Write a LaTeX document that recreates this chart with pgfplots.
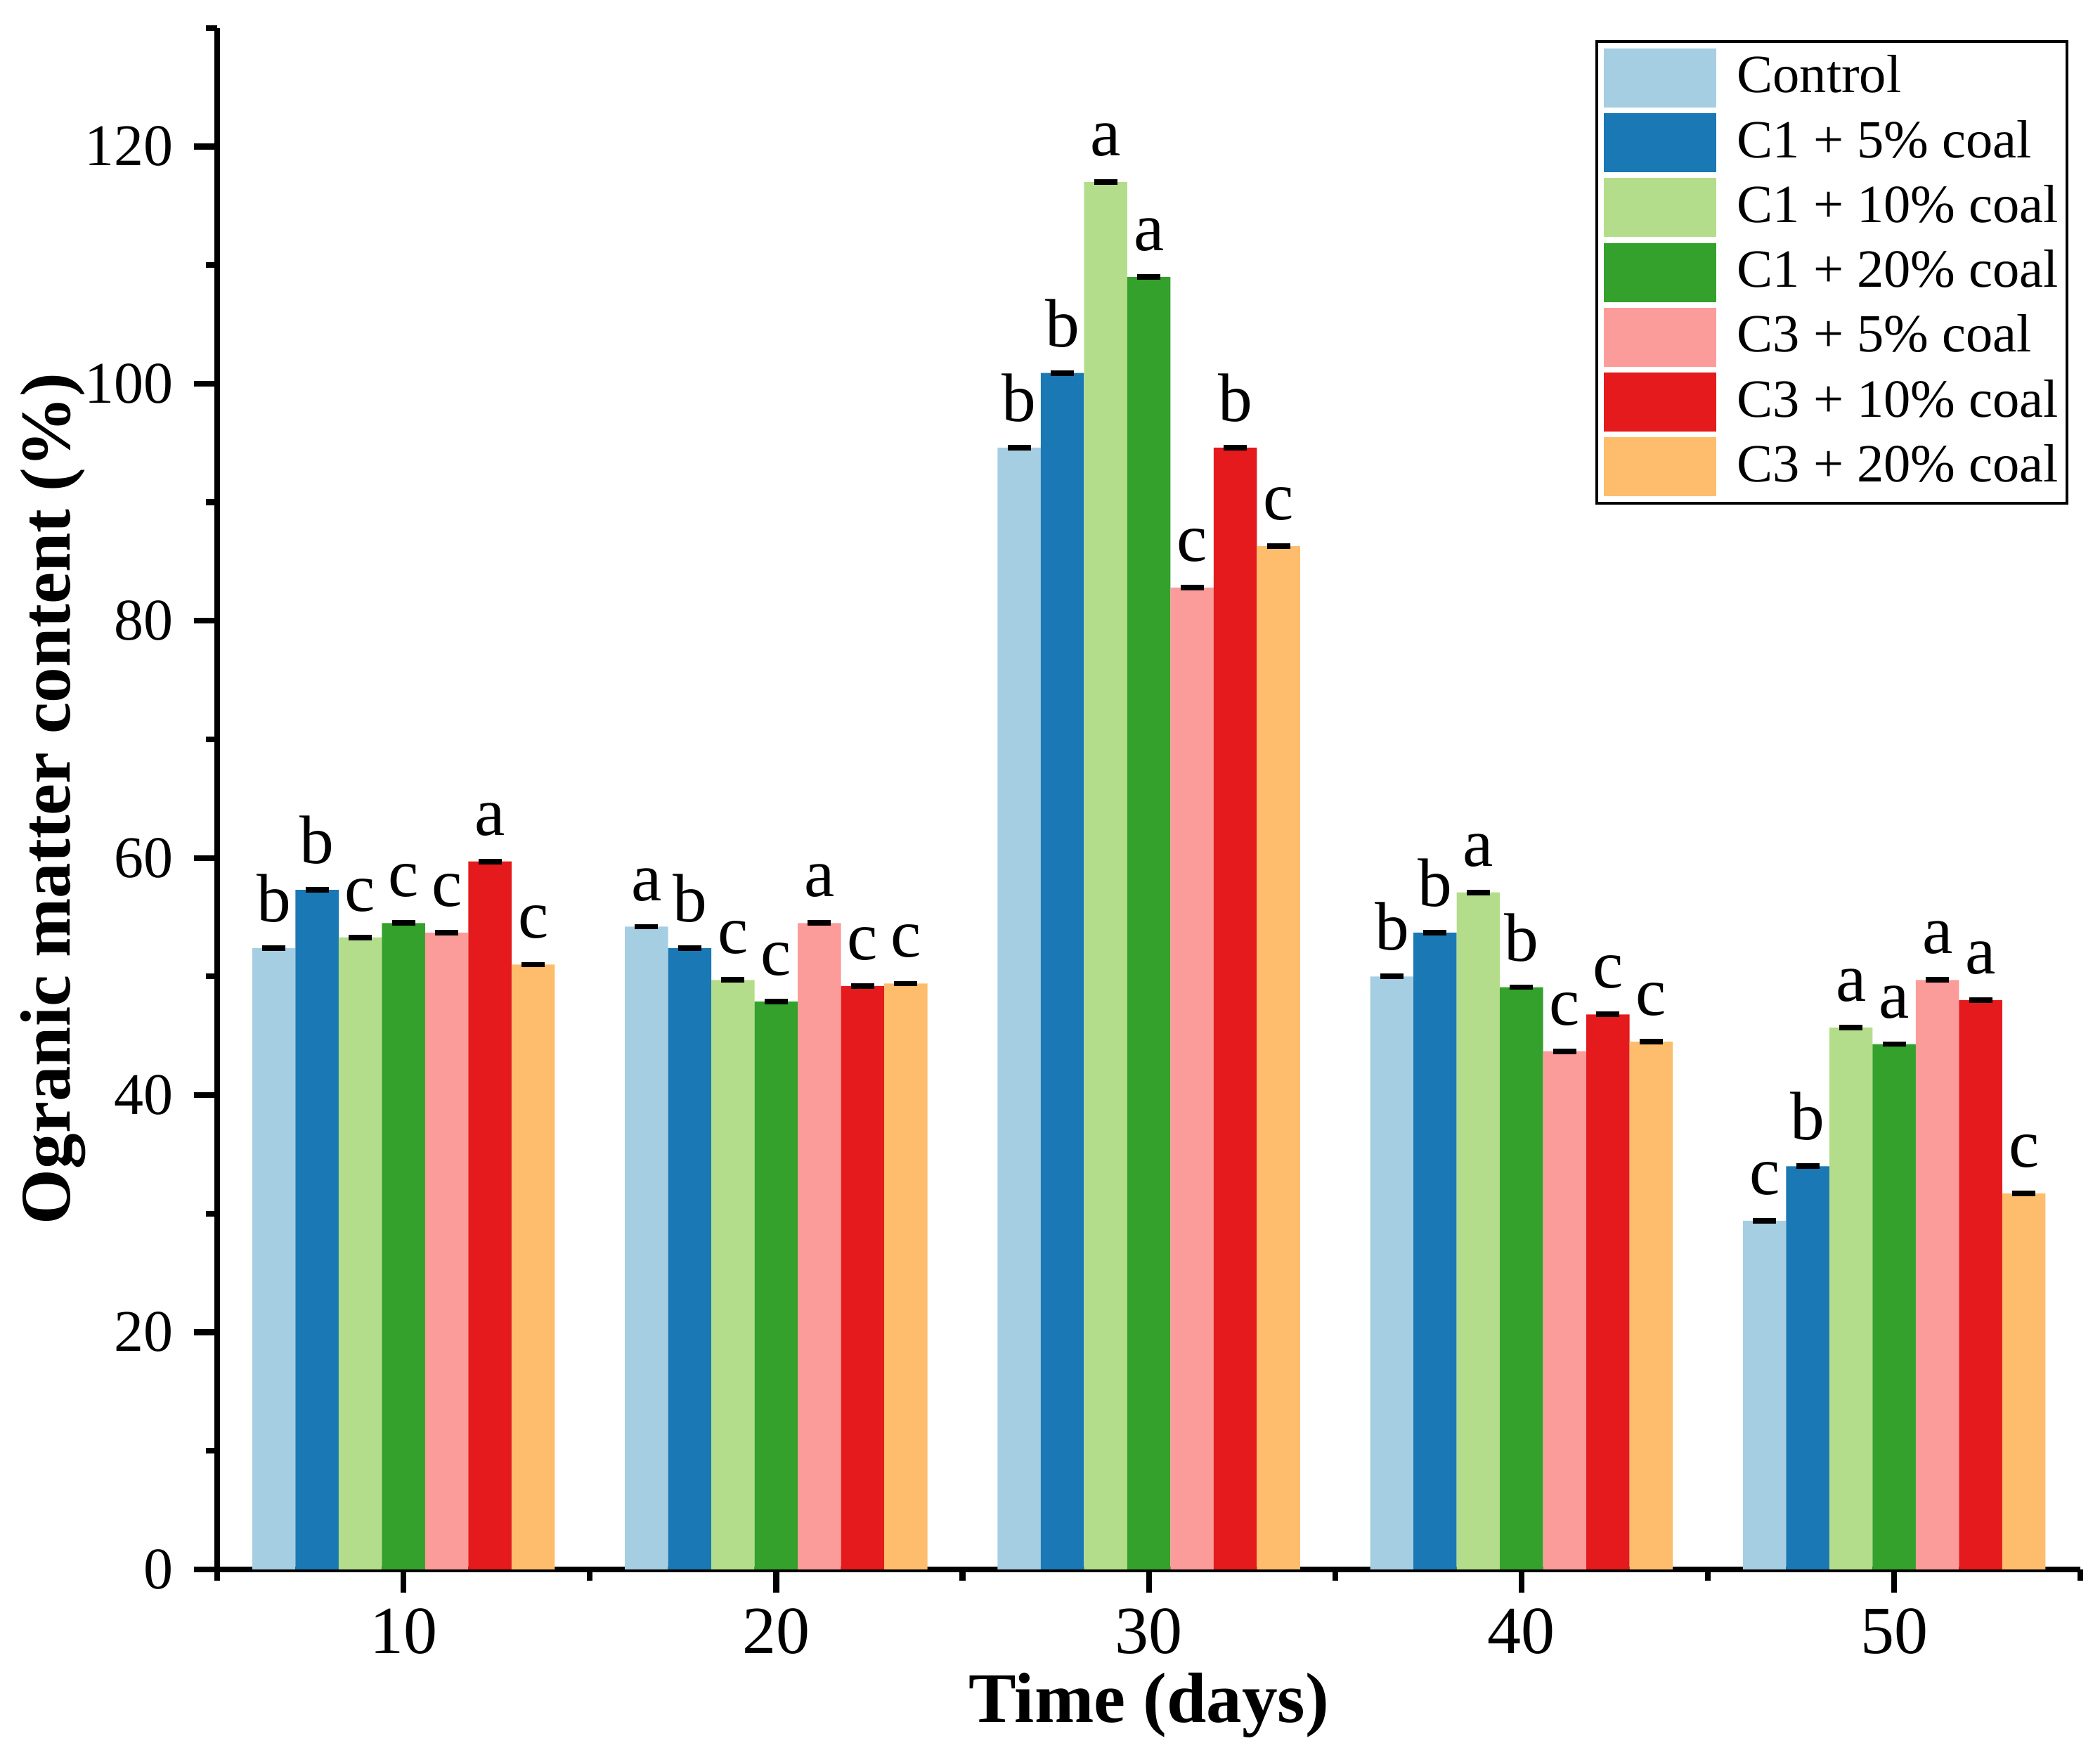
\documentclass[border=0pt]{standalone}
\usepackage{fontspec}
\setmainfont{Liberation Serif}
\usepackage{pgfplots}
\usepackage{pgfplotstable}
\pgfplotsset{compat=1.18}

\definecolor{cA}{HTML}{A6CEE3}
\definecolor{cB}{HTML}{1A78B4}
\definecolor{cC}{HTML}{B4DD8B}
\definecolor{cD}{HTML}{33A12C}
\definecolor{cE}{HTML}{FB9C9A}
\definecolor{cF}{HTML}{E41A1C}
\definecolor{cG}{HTML}{FDBD6C}

\pgfplotstableread{
x y e l
10 52.4 0.1 b
20 54.2 0.1 a
30 94.6 0.1 b
40 50.0 0.1 b
50 29.4 0.1 c
}\tabA
\pgfplotstableread{
x y e l
10 57.3 0.1 b
20 52.4 0.1 b
30 100.9 0.1 b
40 53.7 0.1 b
50 34.0 0.1 b
}\tabB
\pgfplotstableread{
x y e l
10 53.3 0.1 c
20 49.7 0.1 c
30 117.0 0.1 a
40 57.1 0.1 a
50 45.7 0.1 a
}\tabC
\pgfplotstableread{
x y e l
10 54.5 0.1 c
20 47.9 0.1 c
30 109.0 0.1 a
40 49.1 0.1 b
50 44.3 0.1 a
}\tabD
\pgfplotstableread{
x y e l
10 53.7 0.1 c
20 54.5 0.1 a
30 82.8 0.1 c
40 43.7 0.1 c
50 49.7 0.1 a
}\tabE
\pgfplotstableread{
x y e l
10 59.7 0.1 a
20 49.2 0.1 c
30 94.6 0.1 b
40 46.8 0.1 c
50 48.0 0.1 a
}\tabF
\pgfplotstableread{
x y e l
10 51.0 0.1 c
20 49.4 0.1 c
30 86.3 0.1 c
40 44.5 0.1 c
50 31.7 0.1 c
}\tabG

\begin{document}
\begin{tikzpicture}
\begin{axis}[
  scale only axis, width=353.5pt, height=292.4pt,
  xmin=5, xmax=55, ymin=0, ymax=130,
  axis x line*=bottom, axis y line*=left,
  axis line style={line width=1.1pt, -},
  xtick={10,20,30,40,50}, minor xtick={5,15,25,35,45,55},
  ytick={0,20,40,60,80,100,120}, minor ytick={10,30,50,70,90,110,130},
  tick align=outside, major tick length=4.4pt, minor tick length=2.2pt,
  tick style={black, line width=1.1pt},
  /pgf/number format/assume math mode=true,
  x tick label style={font=\fontsize{12.8}{14}\selectfont, inner sep=0pt, anchor=north, yshift=-2.9pt},
  y tick label style={font=\fontsize{11.2}{13}\selectfont, inner sep=0pt, anchor=east, xshift=-3.7pt},
  xlabel={Time (days)},
  ylabel={Ogranic matter content (\%)},
  xlabel style={at={(axis description cs:0.5,-0.0992)}, anchor=base, inner sep=0pt, font=\fontsize{13.5}{16}\selectfont\bfseries},
  ylabel style={at={(axis description cs:-0.0789,0.5)}, anchor=base, inner sep=0pt, font=\fontsize{13.5}{16}\selectfont\bfseries},
  ybar, bar width=1.16,
  nodes near coords, point meta=explicit symbolic,
  every node near coord/.append style={font=\fontsize{13}{15}\selectfont, inner sep=0pt, anchor=base, yshift=5pt, black},
  error bars/y dir=both, error bars/y explicit,
  error bars/error mark=|,
  error bars/error bar style={black, line width=0.6pt},
  error bars/error mark options={black, line width=0.6pt, mark size=2.2pt},
  legend style={at={(axis description cs:0.9936,0.9922)}, anchor=north east,
    draw=black, line width=0.6pt, inner xsep=1.3pt, inner ysep=1.3pt, row sep=1.1pt,
    font=\fontsize{10.2}{12}\selectfont, cells={anchor=west},
    nodes={inner xsep=0.3pt, inner ysep=0pt},
    /tikz/every odd column/.append style={column sep=3.6pt}},
  legend image code/.code={\fill[#1] (0pt,-5.6pt) rectangle (21.4pt,5.6pt);},
]
\addplot[fill=cA, draw=none, bar shift=-3.48] table[x=x, y=y, y error=e, meta=l] {\tabA};
\addplot[fill=cB, draw=none, bar shift=-2.32] table[x=x, y=y, y error=e, meta=l] {\tabB};
\addplot[fill=cC, draw=none, bar shift=-1.16] table[x=x, y=y, y error=e, meta=l] {\tabC};
\addplot[fill=cD, draw=none, bar shift=0] table[x=x, y=y, y error=e, meta=l] {\tabD};
\addplot[fill=cE, draw=none, bar shift=1.16] table[x=x, y=y, y error=e, meta=l] {\tabE};
\addplot[fill=cF, draw=none, bar shift=2.32] table[x=x, y=y, y error=e, meta=l] {\tabF};
\addplot[fill=cG, draw=none, bar shift=3.48] table[x=x, y=y, y error=e, meta=l] {\tabG};
\legend{Control, C1 + 5\% coal, C1 + 10\% coal, C1 + 20\% coal, C3 + 5\% coal, C3 + 10\% coal, C3 + 20\% coal}
\coordinate (BL) at (axis cs:5,0);
\coordinate (TR) at (axis cs:55,130);
\end{axis}
\pgfresetboundingbox
\path ([shift={(-41.2pt,-35.2pt)}]BL) rectangle ([shift={(3.7pt,5.3pt)}]TR);
\end{tikzpicture}
\end{document}
